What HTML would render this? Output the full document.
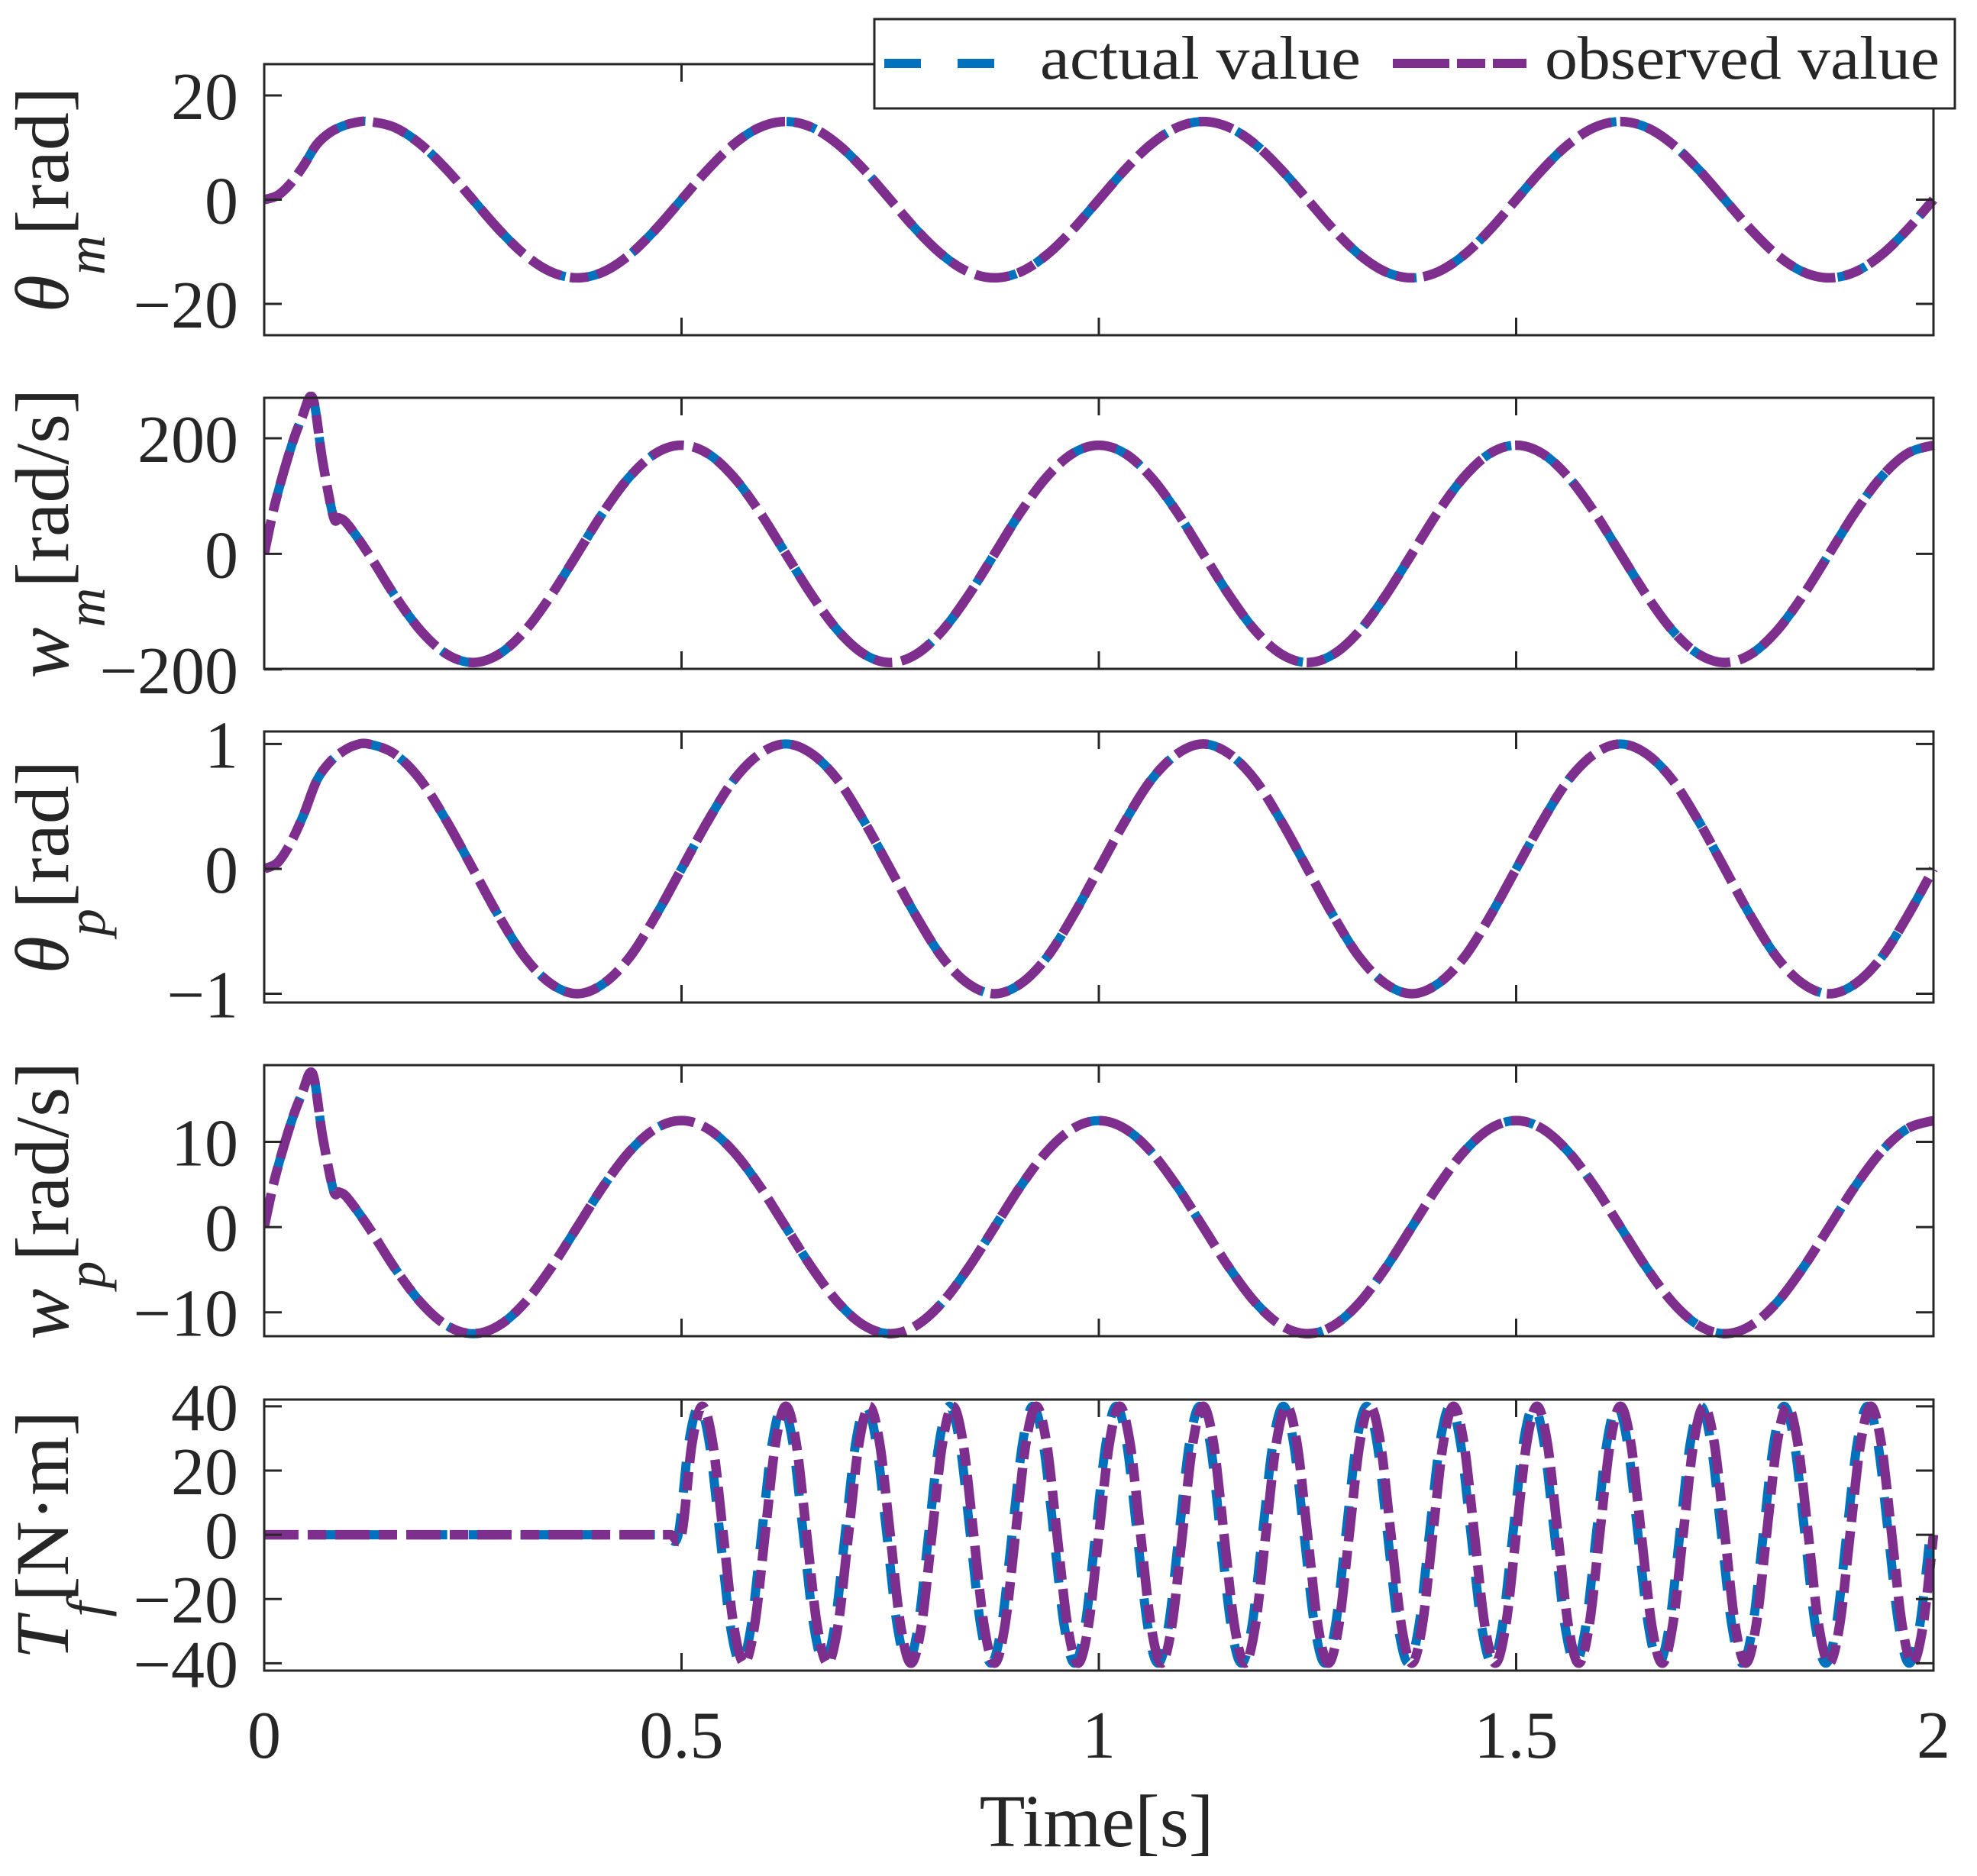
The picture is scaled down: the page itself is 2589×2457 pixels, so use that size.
<!DOCTYPE html>
<html><head><meta charset="utf-8"><style>
html,body{margin:0;padding:0;background:#fff}
svg{display:block}
text{font-family:"Liberation Serif","DejaVu Serif",serif;fill:#262626}
</style></head><body>
<svg id="fig" width="2589" height="2457" viewBox="0 0 2589 2457" xmlns="http://www.w3.org/2000/svg">
<rect width="2589" height="2457" fill="#fff"/>
<g id="root"></g>
</svg>
<script>
// ---- data ----
const xTicks = [0, 0.5, 1, 1.5, 2];
const xTickLabels = ["0", "0.5", "1", "1.5", "2"];
const mainStep = 1/32;
// theta_m
const thmStartT = [0,0.016,0.031,0.047,0.0625,0.078,0.094,0.109,0.125];
const thmStartV = [0,0.8,3,6.5,10.5,12.8,14.1,14.8,15];
const thmMain = [13.86,10.61,5.74,0,-5.74,-10.61,-13.86,-15,-13.86,-10.61,-5.74,0,5.74,10.61,13.86,15,13.86,10.61,5.74,0,-5.74,-10.61,-13.86,-15,-13.86,-10.61,-5.74,0,5.74,10.61,13.86,15,13.86,10.61,5.74,0,-5.74,-10.61,-13.86,-15,-13.86,-10.61,-5.74,0,5.74,10.61,13.86,15,13.86,10.61,5.74,0,-5.74,-10.61,-13.86,-15,-13.86,-10.61,-5.74,0];
// w_m
const wmStartT = [0,0.013,0.031,0.045,0.058,0.07,0.083,0.09,0.1,0.125];
const wmStartV = [0,87,179,235,270,160,64,62,51,0];
const wmMain = [-71.9,-132.9,-173.7,-188,-173.7,-132.9,-71.9,0,71.9,132.9,173.7,188,173.7,132.9,71.9,0,-71.9,-132.9,-173.7,-188,-173.7,-132.9,-71.9,0,71.9,132.9,173.7,188,173.7,132.9,71.9,0,-71.9,-132.9,-173.7,-188,-173.7,-132.9,-71.9,0,71.9,132.9,173.7,188,173.7,132.9,71.9,0,-71.9,-132.9,-173.7,-188,-173.7,-132.9,-71.9,0,71.9,132.9,173.7,188];
// theta_p
const thpStartT = [0,0.016,0.031,0.047,0.0625,0.078,0.094,0.109,0.125];
const thpStartV = [0,0.05,0.2,0.43,0.7,0.85,0.94,0.99,1];
const thpMain = [0.92,0.71,0.38,0,-0.38,-0.71,-0.92,-1,-0.92,-0.71,-0.38,0,0.38,0.71,0.92,1,0.92,0.71,0.38,0,-0.38,-0.71,-0.92,-1,-0.92,-0.71,-0.38,0,0.38,0.71,0.92,1,0.92,0.71,0.38,0,-0.38,-0.71,-0.92,-1,-0.92,-0.71,-0.38,0,0.38,0.71,0.92,1,0.92,0.71,0.38,0,-0.38,-0.71,-0.92,-1,-0.92,-0.71,-0.38,0];
// w_p
const wpStartT = [0,0.013,0.031,0.045,0.058,0.07,0.083,0.09,0.1,0.125];
const wpStartV = [0,5.8,11.9,15.6,18,10.6,4.3,4.1,3.4,0];
const wpMain = [-4.78,-8.84,-11.55,-12.5,-11.55,-8.84,-4.78,0,4.78,8.84,11.55,12.5,11.55,8.84,4.78,0,-4.78,-8.84,-11.55,-12.5,-11.55,-8.84,-4.78,0,4.78,8.84,11.55,12.5,11.55,8.84,4.78,0,-4.78,-8.84,-11.55,-12.5,-11.55,-8.84,-4.78,0,4.78,8.84,11.55,12.5,11.55,8.84,4.78,0,-4.78,-8.84,-11.55,-12.5,-11.55,-8.84,-4.78,0,4.78,8.84,11.55,12.5];
// T_f
const tfStartT = [0, 0.1, 0.2, 0.3, 0.4, 0.45, 0.475, 0.4875, 0.5];
const tfStartV = [0, 0, 0, 0, 0, 0, 0, 0, 0];
const tfStep = 0.0125;
const tfMain = [28.3,40,28.3,0,-28.3,-40,-28.3,0,28.3,40,28.3,0,-28.3,-40,-28.3,0,28.3,40,28.3,0,-28.3,-40,-28.3,0,28.3,40,28.3,0,-28.3,-40,-28.3,0,28.3,40,28.3,0,-28.3,-40,-28.3,0,28.3,40,28.3,0,-28.3,-40,-28.3,0,28.3,40,28.3,0,-28.3,-40,-28.3,0,28.3,40,28.3,0,-28.3,-40,-28.3,0,28.3,40,28.3,0,-28.3,-40,-28.3,0,28.3,40,28.3,0,-28.3,-40,-28.3,0,28.3,40,28.3,0,-28.3,-40,-28.3,0,28.3,40,28.3,0,-28.3,-40,-28.3,0,28.3,40,28.3,0,-28.3,-40,-28.3,0,28.3,40,28.3,0,-28.3,-40,-28.3,0,28.3,40,28.3,0,-28.3,-40,-28.3,0];
const actualLead = 0.004;

const p1Ticks = [-20, 0, 20], p1Labels = ["\u221220", "0", "20"];
const p2Ticks = [-200, 0, 200], p2Labels = ["\u2212200", "0", "200"];
const p3Ticks = [-1, 0, 1], p3Labels = ["\u22121", "0", "1"];
const p4Ticks = [-10, 0, 10], p4Labels = ["\u221210", "0", "10"];
const p5Ticks = [-40, -20, 0, 20, 40], p5Labels = ["\u221240", "\u221220", "0", "20", "40"];

// ---- layout ----
const NS = "http://www.w3.org/2000/svg";
const root = document.getElementById("root");
const X0 = 346, X1 = 2532, H = 355;
const tops = [84, 521, 958, 1395, 1833];
const xs = t => X0 + (t - 0) / 2 * (X1 - X0);
const PURPLE = "#7E2F8E", BLUE = "#0072BD";

function mk(tag, attrs, parent) {
  const e = document.createElementNS(NS, tag);
  for (const k in attrs) e.setAttribute(k, attrs[k]);
  (parent || root).appendChild(e);
  return e;
}
function buildSeries(st, sv, main, startT, step) {
  const T = st.slice(), V = sv.slice();
  for (let i = 0; i < main.length; i++) { T.push(startT + (i + 1) * step); V.push(main[i]); }
  return [T, V];
}
function pathFrom(T, V, ys, shift) {
  const P = T.map((t, i) => [xs(t + shift), ys(V[i])]);
  let d = "M" + P[0][0].toFixed(1) + "," + P[0][1].toFixed(1);
  for (let i = 0; i < P.length - 1; i++) {
    const p0 = P[Math.max(i - 1, 0)], p1 = P[i], p2 = P[i + 1], p3 = P[Math.min(i + 2, P.length - 1)];
    const c1 = [p1[0] + (p2[0] - p0[0]) / 6, p1[1] + (p2[1] - p0[1]) / 6];
    const c2 = [p2[0] - (p3[0] - p1[0]) / 6, p2[1] - (p3[1] - p1[1]) / 6];
    d += "C" + c1.map(v => v.toFixed(1)).join(",") + " " + c2.map(v => v.toFixed(1)).join(",") + " " + p2[0].toFixed(1) + "," + p2[1].toFixed(1);
  }
  return d;
}

const panels = [
  {name:"theta-m", ylim:[-26,26], ticks:p1Ticks, labels:p1Labels, series:buildSeries(thmStartT, thmStartV, thmMain, 0.125, mainStep), lab:["\u03B8","m","[rad]"]},
  {name:"w-m", ylim:[-199,270], ticks:p2Ticks, labels:p2Labels, series:buildSeries(wmStartT, wmStartV, wmMain, 0.125, mainStep), lab:["w","m","[rad/s]"]},
  {name:"theta-p", ylim:[-1.07,1.1], ticks:p3Ticks, labels:p3Labels, series:buildSeries(thpStartT, thpStartV, thpMain, 0.125, mainStep), lab:["\u03B8","p","[rad]"]},
  {name:"w-p", ylim:[-12.8,19], ticks:p4Ticks, labels:p4Labels, series:buildSeries(wpStartT, wpStartV, wpMain, 0.125, mainStep), lab:["w","p","[rad/s]"]},
  {name:"t-f", ylim:[-42.3,42.1], ticks:p5Ticks, labels:p5Labels, series:buildSeries(tfStartT, tfStartV, tfMain, 0.5, tfStep), lab:["T","f","[N\u00B7m]"], tf:true}
];

panels.forEach((p, idx) => {
  const top = tops[idx], bot = top + H;
  const ys = v => bot - (v - p.ylim[0]) / (p.ylim[1] - p.ylim[0]) * H;
  const g = mk("g", {});
  
  
  const clipId = "clip" + idx;
  const cp = mk("clipPath", {id: clipId}, g);
  mk("rect", {x: X0, y: top - 8, width: X1 - X0 + 8, height: H + 16}, cp);
  const [T, V] = p.series;
  const shift = p.tf ? -actualLead : 0;
  const a = mk("path", {d: pathFrom(T, V, ys, shift), fill: "none", stroke: BLUE, "stroke-width": 12, "stroke-dasharray": "40,28", "clip-path": "url(#" + clipId + ")"}, g);
  
  
  const o = mk("path", {d: pathFrom(T, V, ys, 0), fill: "none", stroke: PURPLE, "stroke-width": 12.5, "stroke-dasharray": "45,12,24,12", "clip-path": "url(#" + clipId + ")"}, g);
  
  
  const box = mk("rect", {x: X0, y: top, width: X1 - X0, height: H, fill: "none", stroke: "#262626", "stroke-width": 3}, g);
  
  
  xTicks.forEach(t => {
    const x = xs(t);
    mk("line", {x1: x, y1: bot, x2: x, y2: bot - 23, stroke: "#262626", "stroke-width": 3}, g);
    mk("line", {x1: x, y1: top, x2: x, y2: top + 23, stroke: "#262626", "stroke-width": 3}, g);
  });
  p.ticks.forEach((v, i) => {
    const y = ys(v);
    mk("line", {x1: X0, y1: y, x2: X0 + 23, y2: y, stroke: "#262626", "stroke-width": 3}, g);
    mk("line", {x1: X1, y1: y, x2: X1 - 23, y2: y, stroke: "#262626", "stroke-width": 3}, g);
    const tl = mk("text", {x: 312, y: y + 31, "font-size": 88, "text-anchor": "end"}, g);
    tl.textContent = p.labels[i];
    
    
  });
  const cy = top + H / 2;
  const yl = mk("text", {transform: "translate(89," + cy + ") rotate(-90)", "font-size": 100, "text-anchor": "middle"}, g);
  
  
  const s1 = mk("tspan", {"font-style": "italic"}, yl); s1.textContent = p.lab[0];
  const s2 = mk("tspan", {"font-style": "italic", "font-size": 72, dy: 48}, yl); s2.textContent = p.lab[1];
  const s3 = mk("tspan", {dy: -48}, yl); s3.textContent = p.lab[2];
  if (idx === 4) {
    xTicks.forEach((t, i) => {
      const xl = mk("text", {x: xs(t), y: 2302, "font-size": 88, "text-anchor": "middle"}, g);
      xl.textContent = xTickLabels[i];
      
      
    });
  }
});

const xt = mk("text", {x: 1436, y: 2418, "font-size": 98, "text-anchor": "middle"});
xt.textContent = "Time[s]";



const lg = mk("g", {});


mk("rect", {x: 1145, y: 25, width: 1415, height: 117, fill: "#fff", stroke: "#262626", "stroke-width": 3}, lg);
const l1 = mk("line", {x1: 1158, y1: 83, x2: 1305, y2: 83, stroke: BLUE, "stroke-width": 12, "stroke-dasharray": "48,48"}, lg);


const t1 = mk("text", {x: 1362, y: 103, "font-size": 80, textLength: 420, lengthAdjust: "spacingAndGlyphs"}, lg);
t1.textContent = "actual value";


const l2 = mk("line", {x1: 1824, y1: 83, x2: 1999, y2: 83, stroke: PURPLE, "stroke-width": 12, "stroke-dasharray": "74,10,37,10"}, lg);


const t2 = mk("text", {x: 2023, y: 103, "font-size": 80, textLength: 517, lengthAdjust: "spacingAndGlyphs"}, lg);
t2.textContent = "observed value";


</script>
</body></html>
